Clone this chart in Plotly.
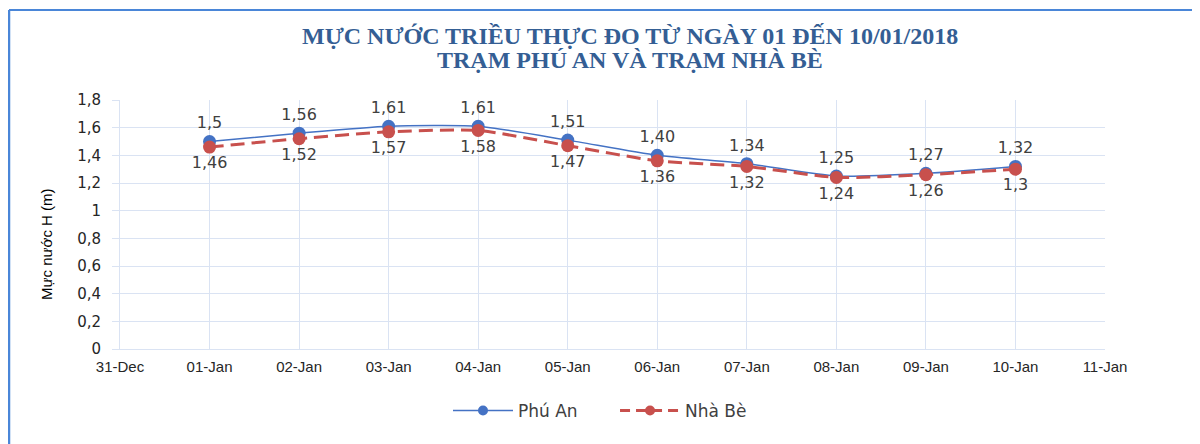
import plotly.graph_objects as go

dates = ["2018-01-01", "2018-01-02", "2018-01-03", "2018-01-04", "2018-01-05",
         "2018-01-06", "2018-01-07", "2018-01-08", "2018-01-09", "2018-01-10"]
phu_an = [1.50, 1.56, 1.61, 1.61, 1.51, 1.40, 1.34, 1.25, 1.27, 1.32]
phu_an_labels = ["1,5", "1,56", "1,61", "1,61", "1,51", "1,40", "1,34", "1,25", "1,27", "1,32"]
nha_be = [1.46, 1.52, 1.57, 1.58, 1.47, 1.36, 1.32, 1.24, 1.26, 1.30]
nha_be_labels = ["1,46", "1,52", "1,57", "1,58", "1,47", "1,36", "1,32", "1,24", "1,26", "1,3"]

title_line1 = "<b>MỰC NƯỚC TRIỀU THỰC ĐO TỪ NGÀY 01 ĐẾN 10/01/2018</b>"
title_line2 = "<b>TRẠM PHÚ AN VÀ TRẠM NHÀ BÈ</b>"
y_title = "Mực nước H (m)"

blue = "#4472C4"
red = "#C8504D"
grid = "#DAE3F3"
title_color = "#345E94"
label_font = dict(family="DejaVu Sans, Verdana, sans-serif", size=16, color="#404040")

# page body offset (default 8px margin of the html page)
OFF = 8
# plot area in screenshot pixels
X0, X1, Y0, Y1 = 120, 1105, 100, 349
L = X0 - OFF
T = Y0 - OFF
pw = X1 - X0
ph = Y1 - Y0
W = 1200 - OFF
H = 444 - OFF
R = W - L - pw
B = H - T - ph

def px_x(p):
    return (p - X0) / pw

def px_y(p):
    return (Y1 - p) / ph

fig = go.Figure()
fig.add_trace(go.Scatter(
    x=dates, y=phu_an, name="Phú An", mode="lines+markers+text", showlegend=False,
    line=dict(color=blue, width=1.5, shape="spline", smoothing=0.6),
    marker=dict(color=blue, size=13),
    text=phu_an_labels, textposition="top center", textfont=label_font,
    cliponaxis=False,
))
fig.add_trace(go.Scatter(
    x=dates, y=nha_be, name="Nhà Bè", mode="lines+markers+text", showlegend=False,
    line=dict(color=red, width=3, dash="14px,7px", shape="spline", smoothing=0.6),
    marker=dict(color=red, size=13),
    text=nha_be_labels, textposition="bottom center", textfont=label_font,
    cliponaxis=False,
))
# legend entries
fig.add_trace(go.Scatter(
    x=[None], y=[None], name="Phú An      ", mode="lines+markers",
    line=dict(color=blue, width=1.5), marker=dict(color=blue, size=10),
))
fig.add_trace(go.Scatter(
    x=[None], y=[None], name="Nhà Bè", mode="lines+markers",
    line=dict(color=red, width=3, dash="10px,6px"), marker=dict(color=red, size=10),
))

fig.update_layout(
    width=W, height=H,
    margin=dict(l=L, r=R, t=T, b=B),
    paper_bgcolor="white", plot_bgcolor="white",
    separators=",.",
    legend=dict(orientation="h", x=px_x(600), xanchor="center", y=px_y(411), yanchor="middle",
                font=dict(family="DejaVu Sans, Verdana, sans-serif", size=17, color="#404040"),
                itemwidth=60, tracegroupgap=0),
    xaxis=dict(
        type="date", range=["2017-12-31", "2018-01-11"], dtick=86400000,
        tick0="2017-12-31", tickformat="%d-%b",
        showgrid=True, gridcolor=grid, gridwidth=1,
        showline=True, linecolor=grid, linewidth=1,
        ticks="", zeroline=False,
        tickfont=dict(family="Liberation Sans Narrow, Arial Narrow, Liberation Sans, sans-serif", size=15, color="#262626"),
        ticklabelstandoff=4,
    ),
    yaxis=dict(
        range=[0, 1.8], dtick=0.2, tick0=0,
        showgrid=True, gridcolor=grid, gridwidth=1,
        showline=True, linecolor=grid, linewidth=1,
        ticks="outside", ticklen=7, tickcolor=grid,
        zeroline=False, ticklabelstandoff=8,
        tickfont=dict(family="DejaVu Sans, Verdana, sans-serif", size=15, color="#262626"),
    ),
    annotations=[
        dict(text=title_line1, xref="paper", yref="paper",
             x=px_x(630), y=px_y(36), xanchor="center", yanchor="middle",
             showarrow=False,
             font=dict(family="Liberation Serif, Times New Roman, serif", size=24, color=title_color)),
        dict(text=title_line2, xref="paper", yref="paper",
             x=px_x(630), y=px_y(60), xanchor="center", yanchor="middle",
             showarrow=False,
             font=dict(family="Liberation Serif, Times New Roman, serif", size=24, color=title_color)),
        dict(text=y_title, xref="paper", yref="paper",
             x=px_x(46), y=px_y(244), xanchor="center", yanchor="middle",
             showarrow=False, textangle=-90,
             font=dict(family="Liberation Sans Narrow, Arial Narrow, Liberation Sans, sans-serif", size=15, color="#000000")),
    ],
    shapes=[
        dict(type="line", xref="paper", yref="paper",
             x0=px_x(9), x1=px_x(1200), y0=px_y(10), y1=px_y(10),
             line=dict(color="#4A86D8", width=2)),
        dict(type="line", xref="paper", yref="paper",
             x0=px_x(9), x1=px_x(9), y0=px_y(10), y1=px_y(444),
             line=dict(color="#4A86D8", width=2.5)),
    ],
)

fig.write_html("out.html")
